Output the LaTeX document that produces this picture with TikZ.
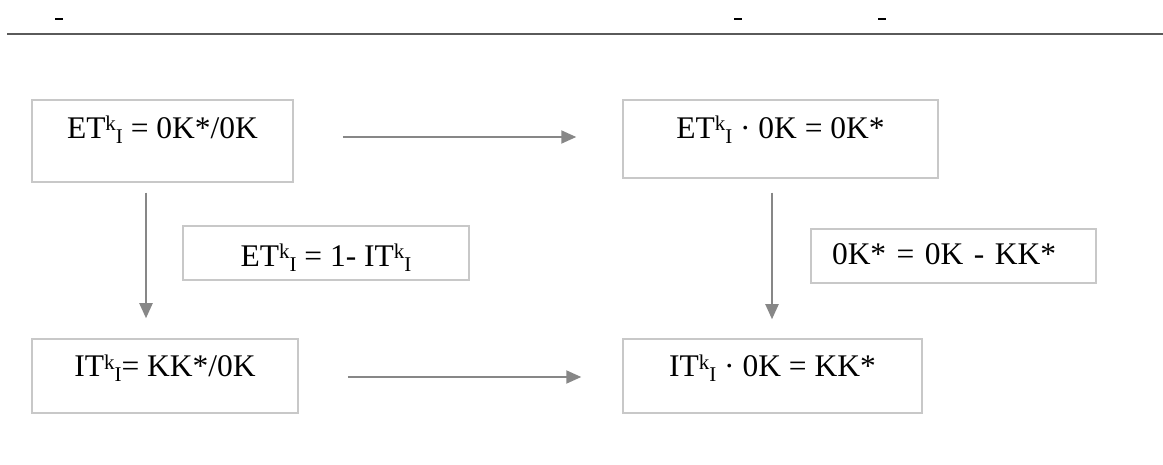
\documentclass[tikz,border=0pt]{standalone}
\usepackage{fontspec}
\setmainfont{Liberation Serif}
\usetikzlibrary{arrows.meta}
\newcommand\supk{\raisebox{8pt}{\fontsize{21}{21}\selectfont k}}
\newcommand\subI{\raisebox{-5pt}{\fontsize{21}{21}\selectfont I}}
\definecolor{boxgray}{RGB}{200,200,200}
\definecolor{arrgray}{RGB}{135,135,135}
\definecolor{rulegray}{RGB}{90,90,90}
\tikzset{
  eqbox/.style={draw=boxgray, line width=1.5pt, inner sep=0pt, font=\fontsize{31.5}{38}\selectfont},
  arr/.style={draw=arrgray, line width=2pt, -{Triangle[length=15pt,width=13pt]}},
}
\begin{document}
\begin{tikzpicture}[x=1pt,y=-1pt]
\useasboundingbox (0,0) rectangle (1163,465);
\draw[rulegray, line width=1.8pt] (7,34) -- (1163,34);
\foreach \xx in {55,734,878}{\draw[line width=1.5pt] (\xx,19) -- (\xx+8,19);}
\node[eqbox, minimum width=261pt, text height=39pt, text depth=43pt] (a) at (162.5,141) {ET\supk\subI{} = 0K*/0K};
\node[eqbox, minimum width=315pt, text height=39pt, text depth=39pt] (b) at (780.5,139) {ET\supk\subI{} · 0K = 0K*};
\node[eqbox, minimum width=286pt, text height=41pt, text depth=13pt] (c) at (326,253) {ET\supk\subI{} = 1- IT\supk\subI};
\node[eqbox, inner xsep=21pt, text width=243pt, align=left, text height=36pt, text depth=18pt] (d) at (953.5,256) {0K* = 0K - KK*};
\node[eqbox, minimum width=266pt, text height=38pt, text depth=36pt] (e) at (165,376) {IT\supk\subI= KK*/0K};
\node[eqbox, minimum width=299pt, text height=38pt, text depth=36pt] (f) at (772.5,376) {IT\supk\subI{} · 0K = KK*};
\draw[arr] ([xshift=49pt,yshift=4pt]a.east) -- ([xshift=-46pt,yshift=2pt]b.west);
\draw[arr] ([xshift=-16.5pt,yshift=-10pt]a.south) -- ([xshift=-19pt,yshift=20pt]e.north);
\draw[arr] ([xshift=-8.5pt,yshift=-14pt]b.south) -- ([xshift=-0.5pt,yshift=19pt]f.north);
\draw[arr] ([xshift=49pt,yshift=-1pt]e.east) -- ([xshift=-41pt,yshift=-1pt]f.west);
\end{tikzpicture}
\end{document}
